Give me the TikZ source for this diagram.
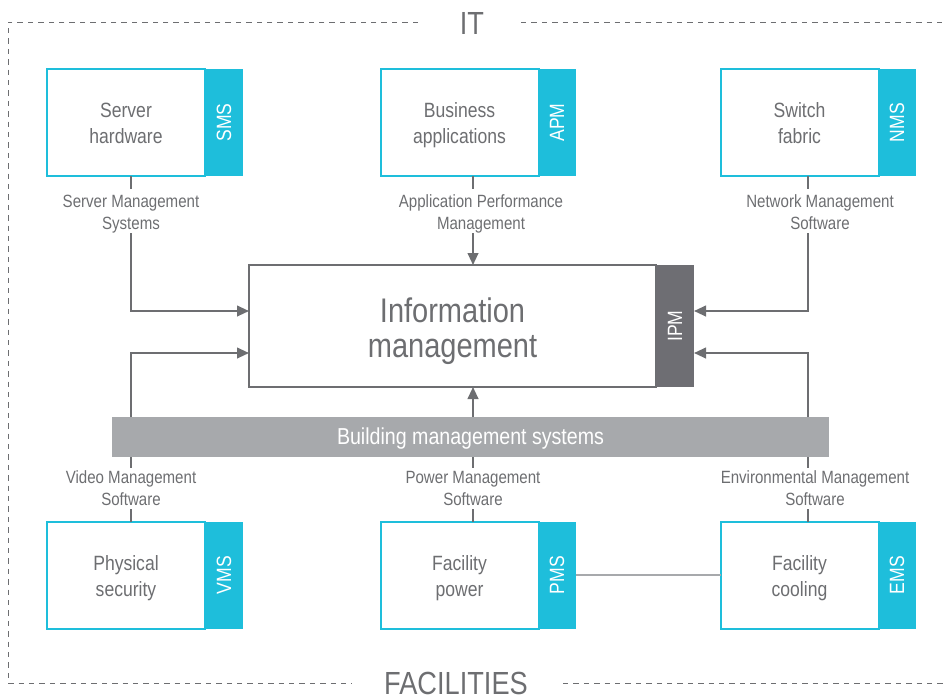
\documentclass[tikz,border=0pt]{standalone}
\usepackage{fontspec}
\setmainfont[FakeStretch=0.85]{Liberation Sans}
\usetikzlibrary{arrows.meta}
\definecolor{cyanb}{RGB}{30,190,219}
\definecolor{txtg}{RGB}{109,110,113}
\definecolor{darkg}{RGB}{110,110,115}
\definecolor{barg}{RGB}{167,169,172}
\newcommand\bxtop{\rule{0pt}{18.2pt}}
\newcommand\lbtop{\rule{0pt}{14.6pt}}
\begin{document}
\begin{tikzpicture}[x=0.75pt,y=-0.75pt,
  box/.style={draw=cyanb, line width=1.5pt, fill=white, minimum width=118.5pt, minimum height=80.25pt,
    inner sep=0pt, outer sep=0pt, align=center, text=txtg, font=\fontsize{15.5}{19.5}\selectfont},
  tabbox/.style={fill=cyanb, rotate=90, minimum width=80.25pt, minimum height=28.5pt,
    inner sep=0pt, outer sep=0pt, text=white, font=\fontsize{15.5}{18}\selectfont},
  lbl/.style={align=center, text=txtg, inner sep=0pt, font=\fontsize{13.3}{16.5}\selectfont},
  conn/.style={draw=txtg, line width=1.5pt},
  arr/.style={conn, -{Triangle[length=9pt,width=8pt]}},
  frame/.style={draw=txtg, line width=0.75pt, dash pattern=on 4pt off 3.8pt},
  big/.style={text=txtg, inner sep=0pt, font=\fontsize{24}{28}\selectfont}
]
\useasboundingbox (0,0) rectangle (944,697);

% frame
\draw[frame] (418,22) -- (8,22) -- (8,683) -- (352,683);
\draw[frame] (521,22) -- (960,22);
\draw[frame] (563,683) -- (960,683);
\node[big] (it) at (472,23) {IT};
\node[big, anchor=base, text depth=0pt] (fac) at (456,694.5) {FACILITIES};

% top row
\node[box] (sh) at (126,122.5) {\bxtop Server\\hardware\strut};
\node[tabbox] (sms) at (224,122.5) {SMS};
\node[box] (ba) at (459.5,122.5) {\bxtop Business\\applications\strut};
\node[tabbox] (apm) at (557,122.5) {APM};
\node[box] (sf) at (799.5,122.5) {\bxtop Switch\\fabric\strut};
\node[tabbox] (nms) at (897,122.5) {NMS};

% information management
\node[draw=txtg, line width=1.5pt, fill=white, minimum width=305.25pt, minimum height=91.5pt,
  inner sep=0pt, outer sep=0pt] (im) at (452.5,326) {};
\node[align=center, text=txtg, inner sep=0pt, font=\fontsize{25.6}{26.5}\selectfont]
  (imtext) at (452.5,331) {Information\\management};
\node[fill=darkg, rotate=90, minimum width=91.5pt, minimum height=28.5pt, inner sep=0pt, outer sep=0pt,
  text=white, font=\fontsize{15.5}{18}\selectfont] (ipm) at (675,326) {IPM};

% building management bar
\node[fill=barg, minimum width=537.75pt, minimum height=30pt, inner sep=0pt, outer sep=0pt,
  text height=12.4pt, text depth=0.6pt,
  text=white, font=\fontsize{17.3}{20}\selectfont] (bar) at (470.5,437) {Building management systems};

% bottom row
\node[box] (ps) at (126,575) {\bxtop Physical\\security\strut};
\node[tabbox] (vms) at (224,575) {VMS};
\node[box] (fp) at (459.5,575) {\bxtop Facility\\power\strut};
\node[tabbox] (pms) at (557,575) {PMS};
\node[box] (fc) at (799.5,575) {\bxtop Facility\\cooling\strut};
\node[tabbox] (ems) at (897,575) {EMS};

% labels
\node[lbl] (lsms) at (131,212) {\lbtop Server Management\\Systems\strut};
\node[lbl] (lapm) at (481,212) {\lbtop Application Performance\\Management\strut};
\node[lbl] (lnms) at (820,212) {\lbtop Network Management\\Software\strut};
\node[lbl] (lvms) at (131,488) {\lbtop Video Management\\Software\strut};
\node[lbl] (lpms) at (473,488) {\lbtop Power Management\\Software\strut};
\node[lbl] (lems) at (815,488) {\lbtop Environmental Management\\Software\strut};

% coordinates for connector ends
\coordinate (t1a) at (131,189); \coordinate (t1b) at (131,233);
\coordinate (t2s) at (473,176); \coordinate (t2a) at (473,189); \coordinate (t2b) at (473,233);
\coordinate (t3a) at (808,189); \coordinate (t3b) at (808,233);
\coordinate (imL1) at (249,311); \coordinate (imL2) at (249,353);
\coordinate (imR1) at (694,311); \coordinate (imR2) at (694,353);
\coordinate (imT) at (473,265); \coordinate (imB) at (473,387);
\coordinate (b1t) at (131,417); \coordinate (b2t) at (473,417); \coordinate (b3t) at (808,417);
\coordinate (b1b) at (131,457); \coordinate (b2b) at (473,457); \coordinate (b3b) at (808,457);
\coordinate (b1a) at (131,468); \coordinate (b2a) at (473,468); \coordinate (b3a) at (808,468);
\coordinate (b1c) at (131,509); \coordinate (b2c) at (473,509); \coordinate (b3c) at (808,509);
\coordinate (b1d) at (131,522); \coordinate (b2d) at (473,522); \coordinate (b3d) at (808,522);

% top connectors
\draw[conn] (lsms |- sh.south) -- (t1a);
\draw[arr] (t1b) |- (imL1);
\draw[conn] (t2s) -- (t2a);
\draw[arr] (t2b) -- (imT);
\draw[conn] (t3a |- sf.south) -- (t3a);
\draw[arr] (t3b) |- (imR1);

% bottom connectors
\draw[arr] (b1t) |- (imL2);
\draw[arr] (b2t) -- (imB);
\draw[arr] (b3t) |- (imR2);
\draw[conn] (b1b) -- (b1a); \draw[conn] (b1c) -- (b1d);
\draw[conn] (b2b) -- (b2a); \draw[conn] (b2c) -- (b2d);
\draw[conn] (b3b) -- (b3a); \draw[conn] (b3c) -- (b3d);

% PMS - EMS link
\draw[draw=barg, line width=1.5pt] (pms.south) -- (fc.west);
\end{tikzpicture}
\end{document}
